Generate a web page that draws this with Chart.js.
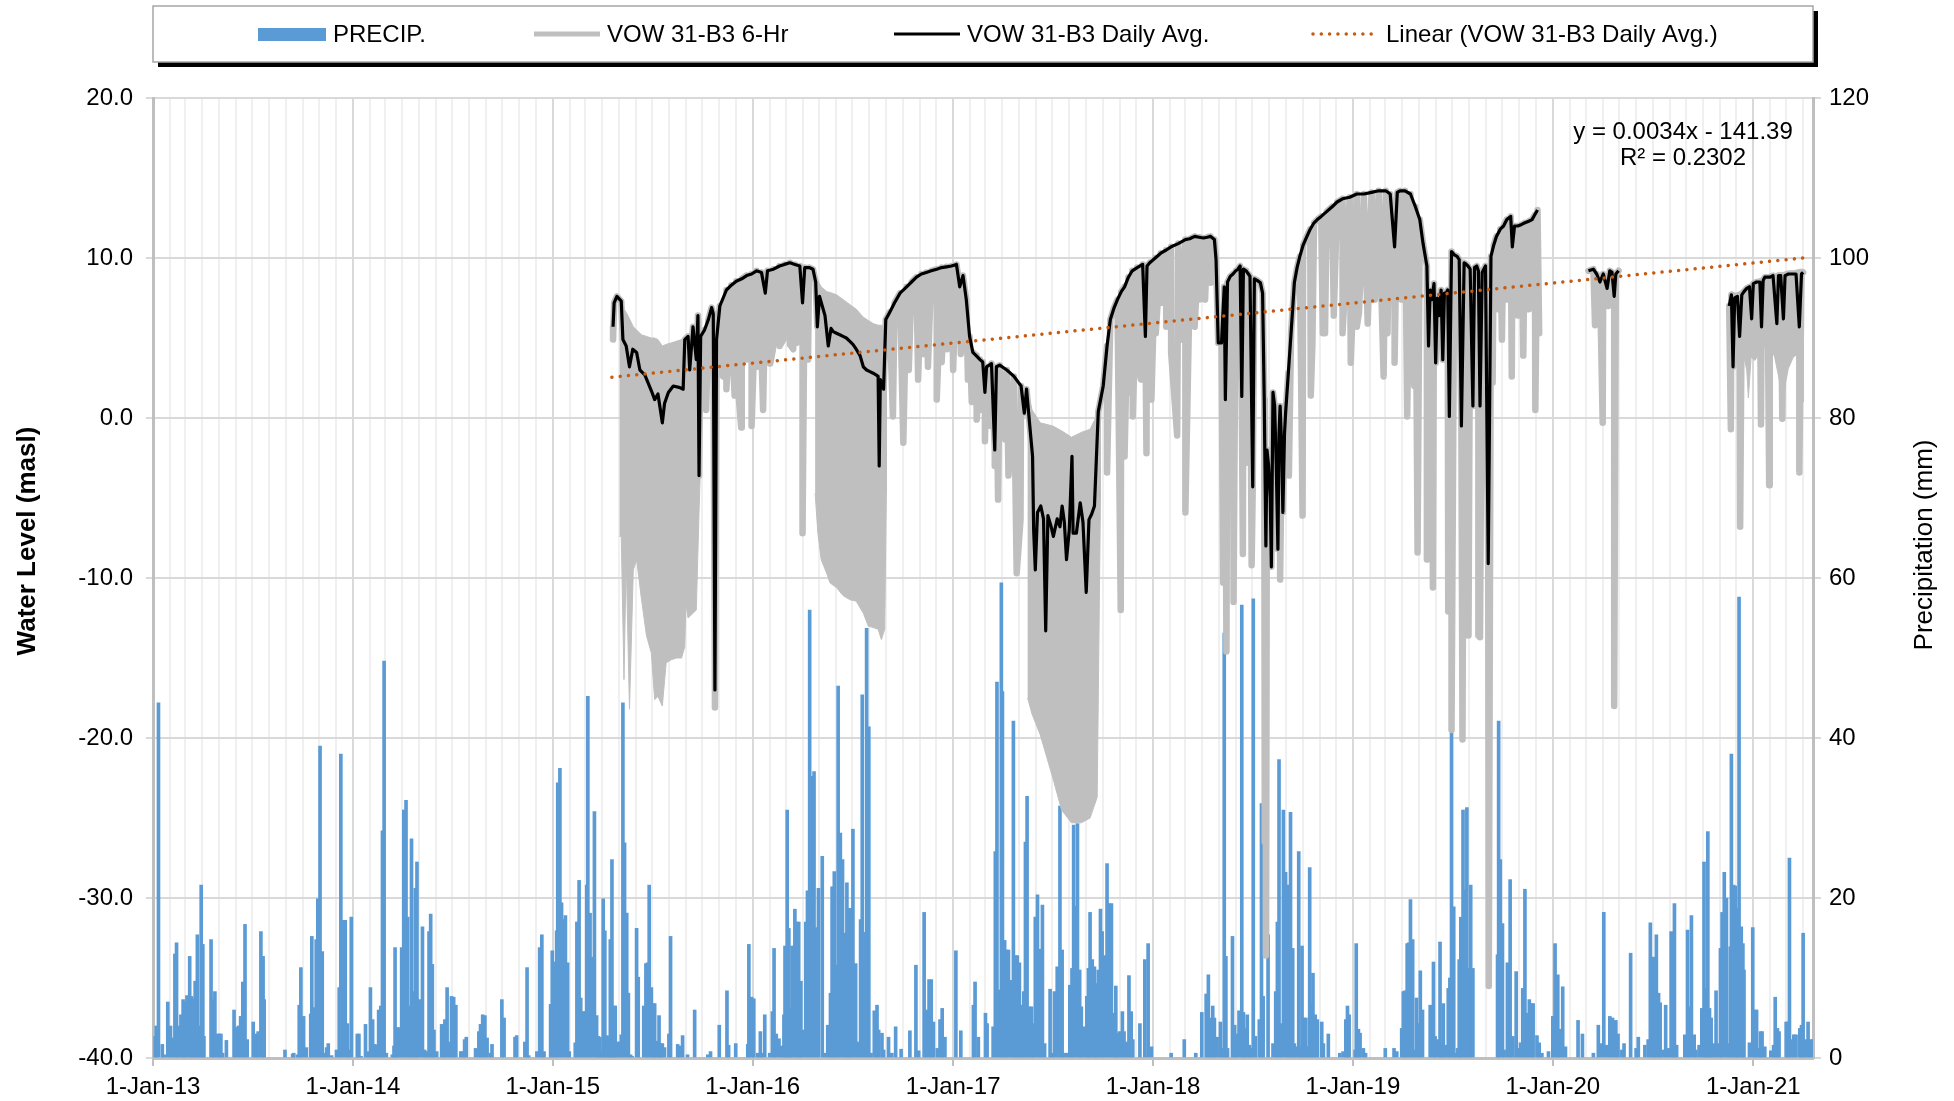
<!DOCTYPE html>
<html>
<head>
<meta charset="utf-8">
<title>VOW 31-B3 water level and precipitation</title>
<script src="https://cdn.jsdelivr.net/npm/chart.js@4.4.1/dist/chart.umd.min.js"></script>
<style>
  html, body { margin: 0; padding: 0; background: #fff; }
  #wrap { width: 1954px; height: 1101px; }
</style>
</head>
<body>
<div id="wrap"><canvas id="chart" width="1954" height="1101"></canvas></div>
<script>
// x values are days counted from 1-Jan-2013
const xMax = 3031;
const yearLabels = ['1-Jan-13', '1-Jan-14', '1-Jan-15', '1-Jan-16', '1-Jan-17', '1-Jan-18', '1-Jan-19', '1-Jan-20', '1-Jan-21'];
const seriesNames = ['PRECIP.', 'VOW 31-B3 6-Hr', 'VOW 31-B3 Daily Avg.', 'Linear (VOW 31-B3 Daily Avg.)'];
const axisTitles = ['Water Level (masl)', 'Precipitation (mm)'];
const trendText = ['y = 0.0034x - 141.39', 'R\u00b2 = 0.2302'];

// daily precipitation (mm)
const precipDays = [
  4, 6, 10, 17, 21, 27, 32, 35, 40, 43,
  46, 51, 55, 58, 62, 67, 70, 74, 77, 81,
  84, 88, 91, 93, 106, 110, 113, 118, 121, 124,
  127, 134, 148, 151, 156, 160, 164, 168, 172, 183,
  188, 192, 197, 201, 203, 241, 255, 257, 264, 267,
  270, 275, 280, 288, 290, 294, 298, 301, 305, 309,
  312, 317, 320, 326, 335, 340, 343, 347, 351, 355,
  358, 362, 373, 376, 380, 388, 393, 397, 401, 405,
  408, 412, 416, 419, 422, 426, 437, 440, 442, 446,
  449, 454, 458, 462, 465, 468, 472, 475, 479, 482,
  486, 492, 496, 500, 504, 507, 510, 513, 518, 527,
  530, 533, 537, 541, 545, 549, 553, 562, 565, 569,
  572, 589, 595, 598, 602, 606, 610, 616, 619, 637,
  641, 661, 664, 679, 683, 686, 701, 706, 710, 714,
  726, 729, 733, 737, 739, 743, 746, 749, 753, 757,
  760, 771, 774, 778, 781, 786, 789, 792, 794, 798,
  802, 806, 810, 813, 816, 819, 822, 825, 829, 832,
  835, 838, 841, 844, 847, 852, 855, 858, 861, 865,
  868, 872, 875, 883, 886, 896, 900, 903, 906, 910,
  913, 916, 920, 924, 927, 930, 934, 942, 945, 958,
  961, 967, 976, 989, 1013, 1018, 1034, 1048, 1051, 1064,
  1086, 1088, 1093, 1097, 1104, 1109, 1112, 1117, 1126, 1131,
  1134, 1138, 1143, 1147, 1152, 1154, 1158, 1161, 1163, 1167,
  1172, 1176, 1179, 1183, 1186, 1192, 1195, 1199, 1203, 1207,
  1211, 1215, 1222, 1227, 1232, 1237, 1240, 1244, 1247, 1251,
  1255, 1259, 1263, 1267, 1271, 1274, 1278, 1283, 1288, 1292,
  1295, 1299, 1303, 1307, 1311, 1317, 1322, 1325, 1331, 1334,
  1343, 1349, 1356, 1366, 1382, 1393, 1398, 1408, 1412, 1417,
  1421, 1425, 1432, 1437, 1441, 1446, 1466, 1475, 1498, 1501,
  1507, 1520, 1523, 1534, 1538, 1541, 1545, 1549, 1551, 1555,
  1558, 1562, 1567, 1571, 1574, 1578, 1582, 1585, 1590, 1593,
  1596, 1600, 1604, 1607, 1611, 1615, 1619, 1624, 1628, 1638,
  1642, 1646, 1651, 1656, 1660, 1664, 1669, 1674, 1678, 1681,
  1684, 1688, 1692, 1695, 1700, 1705, 1708, 1711, 1715, 1719,
  1722, 1726, 1730, 1733, 1737, 1742, 1746, 1750, 1754, 1758,
  1761, 1765, 1770, 1773, 1778, 1782, 1786, 1789, 1802, 1811,
  1817, 1823, 1859, 1883, 1904, 1915, 1923, 1927, 1930, 1935,
  1938, 1943, 1949, 1952, 1956, 1959, 1962, 1971, 1975, 1978,
  1983, 1988, 1991, 1994, 1998, 2002, 2005, 2009, 2013, 2020,
  2024, 2027, 2036, 2045, 2050, 2053, 2056, 2060, 2064, 2068,
  2071, 2074, 2077, 2081, 2084, 2088, 2092, 2095, 2098, 2102,
  2105, 2108, 2112, 2115, 2118, 2122, 2126, 2134, 2137, 2146,
  2167, 2173, 2178, 2181, 2184, 2195, 2197, 2201, 2204, 2210,
  2214, 2250, 2266, 2271, 2280, 2283, 2286, 2290, 2293, 2296,
  2300, 2302, 2307, 2310, 2314, 2318, 2332, 2338, 2341, 2346,
  2350, 2353, 2356, 2360, 2365, 2368, 2371, 2375, 2377, 2382,
  2385, 2388, 2392, 2395, 2399, 2403, 2406, 2410, 2455, 2457,
  2460, 2464, 2467, 2473, 2478, 2483, 2489, 2493, 2497, 2501,
  2505, 2509, 2513, 2517, 2520, 2527, 2531, 2536, 2548, 2556,
  2560, 2565, 2568, 2574, 2579, 2602, 2610, 2630, 2639, 2645,
  2649, 2654, 2660, 2665, 2671, 2675, 2682, 2686, 2698, 2708,
  2712, 2724, 2730, 2734, 2738, 2741, 2745, 2749, 2752, 2757,
  2762, 2767, 2772, 2776, 2778, 2782, 2797, 2802, 2805, 2809,
  2814, 2817, 2823, 2828, 2832, 2835, 2839, 2842, 2845, 2850,
  2854, 2859, 2862, 2865, 2869, 2873, 2876, 2880, 2882, 2886,
  2889, 2892, 2893, 2896, 2900, 2903, 2905, 2915, 2921, 2924,
  2928, 2932, 2935, 2938, 2943, 2954, 2959, 2962, 2966, 2969,
  2982, 2985, 2988, 2991, 2996, 3000, 3007, 3010, 3013, 3017,
  3022, 3026, 3030
];
const precipMm = [
  2.7, 4, 44.4, 1.7, 0.4, 7, 4, 2.5, 13, 14.4,
  4, 5.4, 7.3, 7, 7.8, 12.7, 7.7, 7.4, 9.6, 15.4,
  4, 21.6, 14.2, 2.7, 14.8, 7.3, 8.3, 3, 3, 3,
  0.6, 2.2, 6, 3.8, 4, 5.2, 9.5, 16.7, 2.3, 4.5,
  3, 3.3, 15.8, 12.7, 7.3, 1, 0.5, 0.6, 0.4, 6.6,
  11.3, 5.2, 1.3, 5.5, 15.2, 6.3, 14.8, 19.9, 39, 13.3,
  0.6, 1.3, 1.8, 0.3, 1, 8.8, 38, 17.2, 17.2, 4.3,
  1, 17.6, 3, 3, 0.2, 4.2, 0.8, 8.8, 4.8, 1.7,
  1.6, 6, 6.5, 28.4, 49.6, 0.6, 0.4, 1.5, 13.8, 3.8,
  3.8, 13.8, 31, 32.2, 17.6, 6.5, 27.4, 8.3, 21.2, 24.5,
  7.3, 16.4, 1, 0.8, 15.8, 18, 11.7, 3.5, 0.8, 4.2,
  4.2, 4.8, 8.8, 2, 7.7, 7.6, 6.6, 0.8, 0.8, 2.3,
  2.6, 1.2, 3.3, 4.2, 5.4, 5.3, 2.5, 0.6, 1.7, 7.3,
  5, 2.6, 2.8, 2, 11.3, 0.3, 0.8, 13.8, 15.4, 0.8,
  6.7, 13.4, 12, 15.9, 34.4, 36.2, 19.4, 17.3, 17.8, 11.9,
  0.8, 1.9, 17, 22.2, 7.5, 5.8, 5.8, 21.6, 45.2, 18.1,
  12.6, 30.8, 5.3, 2.7, 2.6, 0.8, 19.9, 15.9, 2.8, 2.5,
  14.8, 24.8, 6.5, 6.5, 2, 2, 2.9, 44.4, 26.9, 18.1,
  8.1, 0.4, 0.2, 16.2, 10.1, 6.5, 11.8, 11.9, 21.6, 8.8,
  6.8, 6.8, 2.1, 5.3, 1.8, 1.8, 1.3, 3, 15.2, 1.7,
  1.5, 2.8, 0.4, 6, 0.4, 0.8, 4.1, 8.4, 1.6, 1.8,
  1.7, 14.2, 7.6, 7.4, 0.6, 3.3, 0.6, 5.4, 0.6, 5.8,
  13.7, 3, 2.4, 1.5, 5.4, 14, 31, 16.2, 6.2, 14,
  18.6, 17, 17, 9.6, 3.5, 17, 20.9, 56, 35.2, 35.8,
  16.3, 21.2, 25.2, 0.6, 4.1, 8.1, 21.4, 23.3, 11.6, 46.5,
  28.1, 24.8, 15.6, 21.9, 18.7, 18.7, 28.6, 11.8, 2, 17.3,
  45.4, 15.7, 53.7, 41.4, 0.6, 5.9, 6.6, 3.5, 3.1, 1,
  2.6, 0.6, 3.9, 1.1, 3.4, 11.6, 0.9, 18.2, 6, 9.8,
  9.8, 4.5, 1.2, 4.8, 6.2, 2.6, 13.4, 3.4, 6.6, 9.5,
  2.6, 5.6, 4.3, 3.9, 25.8, 47, 8.5, 59.4, 45.8, 14.7,
  13.5, 13.5, 9.7, 42.1, 12.8, 12.8, 11.9, 6.6, 8.3, 27,
  32.7, 6.4, 6.4, 4.3, 17.6, 20.4, 13.6, 19.1, 1.8, 8.6,
  0.6, 8.3, 11.4, 31.5, 13.5, 0.6, 0.6, 9.1, 11.2, 29.1,
  19, 29.3, 11, 6.4, 3.9, 7.7, 11.2, 18.2, 12.3, 11.4,
  9.3, 11, 18.6, 15.8, 12.8, 24.3, 19.3, 19.3, 5.6, 9,
  3.1, 3.3, 5.8, 3.3, 2, 10.3, 5.8, 2.3, 4.3, 12.3,
  14.3, 1.4, 0.6, 2.3, 0.6, 5.7, 8, 10.4, 5, 6.5,
  5, 2.6, 4.5, 1.2, 53.1, 12.7, 1.2, 15.2, 4.1, 3,
  5.9, 56.6, 5.7, 3.7, 5.4, 1.6, 1.2, 57.4, 2.7, 4.8,
  31.8, 7.7, 15.4, 1.8, 8.3, 17, 37.3, 4.3, 31, 23.2,
  21.6, 18, 30.7, 13.7, 1.8, 1.4, 25.8, 1.4, 14, 5,
  5, 1.4, 23.8, 6.8, 10.6, 5.4, 4.8, 4.5, 1.8, 3,
  0.6, 0.8, 4.8, 6.5, 5.4, 1, 14.3, 3.6, 3.1, 1.2,
  0.6, 1.2, 1.2, 0.8, 3.7, 8.3, 8.4, 14.3, 14.4, 19.8,
  14.8, 1, 7.5, 4.3, 10.9, 6, 6.6, 12, 2.7, 2.3,
  14.5, 1.8, 6.8, 1.6, 8.7, 10, 53.5, 18.9, 0.6, 1.2,
  12.3, 17.6, 31, 21, 31.3, 11.2, 21.6, 11.2, 12.9, 42.1,
  24.8, 16.8, 1, 11.9, 22.3, 2.7, 10.8, 1.2, 1.9, 8.7,
  21.1, 5.6, 7.3, 6.8, 6.8, 2.8, 1.9, 0.6, 0.8, 5.2,
  14.3, 10.4, 3.6, 8.9, 1.4, 4.7, 3, 0.6, 4.1, 1.8,
  18.2, 1.6, 5.2, 5, 4.7, 3, 1, 1.8, 13.1, 1.2,
  2.6, 1.6, 2.3, 16.9, 12.6, 12.6, 15.4, 8.1, 6.9, 1,
  6.6, 1.2, 15.8, 14.3, 19.3, 1.6, 2.9, 16, 6.4, 17.8,
  2.9, 1, 1.6, 6.2, 24.5, 8.7, 28.3, 6.2, 5, 1.8,
  8.4, 1.8, 13.7, 18.2, 23.2, 20, 1.8, 13.9, 38, 21.6,
  21.5, 16.9, 18.7, 57.6, 16.4, 14.3, 11, 1.9, 16.3, 6,
  6, 1.2, 3.3, 3.3, 1.4, 0.9, 1.6, 7.6, 3.7, 3.3,
  4.5, 4.5, 25, 2.3, 2.9, 2.9, 3.7, 4.1, 15.6, 2.3,
  4.5, 2.3, 2.3
];

// VOW 31-B3 daily average water level (masl); null marks a break in the record
const levelDays = [
  840, 842, 847, 855, 858, 864, 870, 876, 883, 889,
  898, 904, 910, 916, 922, 930, 934, 941, 950, 962,
  968, 971, 977, 980, 986, 992, 995, 997, 1000, 1007,
  1014, 1020, 1023, 1026, 1029, 1035, 1047, 1056, 1065, 1075,
  1084, 1093, 1102, 1111, 1118, 1122, 1133, 1144, 1153, 1163,
  1172, 1181, 1186, 1190, 1198, 1205, 1210, 1213, 1217, 1222,
  1227, 1233, 1238, 1242, 1248, 1254, 1260, 1266, 1272, 1278,
  1284, 1291, 1297, 1303, 1309, 1315, 1320, 1324, 1326, 1328,
  1330, 1334, 1338, 1345, 1354, 1364, 1376, 1385, 1394, 1403,
  1412, 1421, 1431, 1440, 1449, 1458, 1467, 1473, 1479, 1485,
  1491, 1497, 1503, 1510, 1515, 1519, 1522, 1531, 1537, 1540,
  1546, 1559, 1572, 1585, 1591, 1595, 1602, 1606, 1608, 1611,
  1615, 1621, 1626, 1630, 1634, 1640, 1644, 1651, 1656, 1660,
  1664, 1668, 1673, 1678, 1680, 1686, 1693, 1698, 1704, 1709,
  1714, 1719, 1726, 1735, 1742, 1748, 1755, 1761, 1768, 1774,
  1781, 1788, 1797, 1807, 1812, 1815, 1820, 1830, 1840, 1850,
  1859, 1872, 1885, 1893, 1902, 1910, 1918, 1925, 1931, 1938,
  1941, 1945, 1951, 1956, 1958, 1962, 1967, 1972, 1977, 1981,
  1985, 1988, 1991, 1996, 2000, 2003, 2008, 2011, 2016, 2022,
  2026, 2029, 2032, 2034, 2037, 2040, 2042, 2045, 2048, 2051,
  2054, 2056, 2058, 2061, 2063, 2066, 2068, 2073, 2078, 2084,
  2089, 2094, 2100, 2107, 2113, 2120, 2126, 2133, 2143, 2153,
  2162, 2172, 2185, 2198, 2211, 2225, 2238, 2251, 2259, 2267,
  2272, 2277, 2286, 2296, 2305, 2313, 2319, 2326, 2329, 2332,
  2335, 2339, 2342, 2345, 2348, 2352, 2355, 2358, 2361, 2364,
  2367, 2371, 2376, 2381, 2385, 2389, 2394, 2398, 2401, 2405,
  2410, 2413, 2417, 2420, 2423, 2427, 2430, 2433, 2438, 2443,
  2448, 2453, 2460, 2466, 2472, 2479, 2482, 2486, 2492, 2499,
  2505, 2512, 2518, 2523, 2528, 2560, 2621, 2630, 2636, 2642,
  2648, 2655, 2660, 2664, 2668, 2671, 2676, 2750, 2878, 2882,
  2885, 2888, 2893, 2897, 2901, 2905, 2910, 2915, 2919, 2922,
  2928, 2934, 2937, 2940, 2943, 2948, 2952, 2958, 2965, 2968,
  2972, 2977, 2980, 2986, 2995, 3000, 3006, 3010, 3013
];
const levelAvg = [
  5.7, 7.2, 7.6, 7.3, 4.9, 4.5, 3.2, 4.3, 4.1, 3.0,
  2.7, 2.2, 1.7, 1.15, 1.5, -0.3, 0.9, 1.6, 2.0, 1.9,
  1.8, 4.9, 5.1, 3.0, 5.7, 3.65, 6.4, -3.6, 5.1, 5.5,
  6.15, 6.9, 6.5, -17.0, 4.9, 7.0, 8.0, 8.3, 8.55, 8.7,
  8.9, 9.0, 9.2, 9.1, 7.8, 9.2, 9.3, 9.5, 9.6, 9.7,
  9.6, 9.5, 7.2, 9.4, 9.4, 9.3, 8.5, 5.7, 7.6, 7.0,
  6.4, 4.5, 5.6, 5.4, 5.3, 5.2, 5.1, 5.0, 4.8, 4.6,
  4.3, 3.9, 3.2, 3.0, 2.9, 2.8, 2.7, 2.6, -3.0, 2.4,
  2.2, 1.8, 6.15, 6.6, 7.2, 7.8, 8.2, 8.5, 8.8, 9.0,
  9.1, 9.2, 9.3, 9.4, 9.45, 9.5, 9.6, 8.2, 8.9, 7.4,
  5.1, 4.1, 3.9, 3.65, 3.5, 1.6, 3.2, 3.4, -2.0, 3.2,
  3.3, 3.0, 2.6, 2.0, 0.3, 1.8, -0.9, -2.4, -7.0, -9.5,
  -5.9, -5.5, -6.3, -13.3, -6.1, -6.8, -7.4, -6.3, -6.8, -5.5,
  -6.5, -8.85, -7.0, -2.4, -7.2, -7.2, -5.3, -6.5, -10.9, -6.35,
  -6.0, -5.5, 0.4, 2.0, 4.5, 6.15, 6.9, 7.4, 7.9, 8.2,
  8.8, 9.2, 9.4, 9.6, 5.1, 9.5, 9.7, 10.0, 10.3, 10.5,
  10.7, 10.9, 11.15, 11.2, 11.35, 11.3, 11.25, 11.3, 11.35, 11.15,
  9.9, 4.7, 4.7, 8.2, 1.15, 8.5, 8.85, 9.0, 9.2, 9.3,
  9.5, 1.35, 9.3, 9.2, 9.0, 8.85, -4.3, 8.7, 8.6, 8.45,
  7.8, 1.15, -8.0, -2.0, -3.0, -5.0, -9.3, 1.6, 0.75, -3.0,
  -8.2, -1.0, 0.75, -2.0, -5.9, -1.0, 0.3, 2.8, 5.3, 8.45,
  9.4, 10.1, 10.8, 11.35, 11.8, 12.2, 12.4, 12.6, 12.9, 13.2,
  13.5, 13.7, 13.8, 14.0, 14.0, 14.1, 14.2, 14.2, 14.0, 10.7,
  14.1, 14.2, 14.2, 14.0, 13.2, 12.4, 10.9, 9.5, 4.5, 8.0,
  7.4, 8.4, 3.45, 7.5, 6.4, 8.0, 3.65, 7.8, 7.8, 8.0,
  0.1, 10.4, 10.2, 10.1, 9.9, -0.5, 9.7, 9.6, 9.5, 9.3,
  0.75, 9.4, 9.5, 9.2, 0.75, 9.1, 9.3, 9.5, -9.1, 10.1,
  10.8, 11.35, 11.8, 12.0, 12.4, 12.6, 10.7, 12.0, 12.0, 12.1,
  12.2, 12.3, 12.4, 12.7, 13.0, null, 9.2, 9.3, 9.0, 8.5,
  9.0, 8.1, 9.2, 9.1, 7.6, 9.0, 9.2, null, 7.0, 7.7,
  3.2, 7.5, 7.6, 5.1, 7.7, 7.9, 8.1, 8.2, 6.2, 8.4,
  8.5, 8.5, 5.7, 8.6, 8.8, 8.8, 8.8, 8.9, 5.9, 8.9,
  8.9, 6.2, 8.9, 9.0, 9.0, 9.0, 5.7, 9.0, 9.1
];

// 6-hr readings that drop well below the daily average
const sixHrDipDays = [
  840, 1010, 1026, 1035, 1041, 1047, 1060, 1062, 1066, 1074,
  1084, 1093, 1102, 1111, 1114, 1127, 1132, 1135, 1144, 1151,
  1160, 1163, 1169, 1175, 1181, 1186, 1196, 1351, 1370, 1380,
  1397, 1406, 1415, 1431, 1440, 1450, 1461, 1475, 1488, 1495,
  1504, 1510, 1519, 1530, 1537, 1543, 1556, 1562, 1577, 1584,
  1742, 1767, 1774, 1781, 1789, 1797, 1804, 1814, 1823, 1831,
  1843, 1850, 1859, 1870, 1879, 1885, 1892, 1902, 1911, 1921,
  1931, 1954, 1960, 1973, 1990, 1996, 2006, 2030, 2032, 2058,
  2074, 2099, 2114, 2117, 2136, 2140, 2156, 2172, 2187, 2198,
  2202, 2218, 2231, 2247, 2254, 2267, 2280, 2290, 2303, 2309,
  2326, 2337, 2365, 2368, 2371, 2391, 2402, 2420, 2423, 2439,
  2446, 2456, 2463, 2472, 2481, 2492, 2502, 2511, 2524, 2531,
  2633, 2647, 2657, 2668, 2881, 2898, 2936, 2951, 2975, 3006
];
const sixHrDipLevels = [
  4.9, 0.5, -18.1, 3.0, 2.6, 1.8, 2.8, 1.4, 2.8, -0.6,
  3.65, -0.5, 3.2, 4.1, 0.5, 3.4, 4.3, 4.7, 4.5, 4.9,
  5.4, 4.6, 4.3, 4.7, 4.8, -7.2, 3.65, 0.1, -1.55, 3.0,
  2.4, 4.0, 3.2, 1.15, 3.5, 4.3, 3.0, 4.0, 2.4, 1.0,
  -0.1, 0.5, -1.45, -0.5, -3.0, -5.1, -1.35, -3.6, -9.7, -6.35,
  -3.4, -12.0, -2.4, 1.6, 0.1, 3.65, 2.4, -2.2, 1.15, 5.3,
  7.2, 5.7, 4.1, -1.1, 4.9, -5.9, 6.8, 5.7, 7.4, 7.4,
  8.45, -10.3, -14.6, -11.5, -8.5, -2.8, -9.2, -26.5, -33.6, -10.1,
  -3.6, -6.1, 1.4, 4.7, 5.3, 5.3, 6.4, 5.3, 3.45, 5.7,
  6.6, 5.9, 7.4, 2.6, 5.3, 3.45, 7.4, 0.1, 2.0, -8.4,
  -8.85, -10.6, -12.1, -12.1, -19.5, -20.1, -13.6, -13.6, -13.7, -35.5,
  2.2, 6.8, 4.9, 7.4, 2.6, 6.4, 3.9, 6.8, 0.5, 5.3,
  5.8, -0.3, 7.0, -18.0, -0.7, -6.8, -0.4, -4.2, -0.05, -3.4
];

// periods where the 6-hr readings swing continuously between two levels
const bandDays = [
  [852, 855, 860, 864, 870, 877, 883, 892, 901, 910, 916, 922, 930, 937, 947, 956, 965, 971, 973, 977, 986, 992, 997, 1000],
  [1209, 1214, 1220, 1230, 1236, 1248, 1260, 1272, 1284, 1297, 1306, 1315, 1324, 1330, 1336, 1339],
  [1597, 1605, 1620, 1643, 1659, 1677, 1695, 1711, 1724, 1730],
  [2878, 2882, 2890, 2897, 2905, 2910, 2913, 2918, 2925, 2940, 2952, 2961, 2970, 2977, 2986, 2995, 3007, 3010, 3013]
];
const bandTop = [
  [7.0, 7.0, 6.8, 6.6, 6.2, 5.7, 5.5, 5.2, 5.1, 5.0, 5.0, 4.9, 4.5, 4.6, 4.7, 4.8, 4.9, 5.0, 5.0, 5.1, 5.5, 5.7, 6.0, 6.2],
  [9.2, 8.6, 8.2, 7.9, 7.85, 7.7, 7.4, 7.1, 6.8, 6.3, 6.1, 5.9, 5.8, 5.8, 5.7, 5.7],
  [1.8, 0.5, -0.3, -0.5, -0.8, -1.2, -0.9, -0.7, 0.2, 0.4],
  [7.3, 7.9, 7.8, 7.9, 8.1, 8.3, 8.3, 8.4, 8.6, 8.8, 9.0, 9.0, 9.1, 9.1, 9.2, 9.2, 9.3, 9.3, 9.3]
];
const bandLow = [
  [-7.4, -7.4, -16.35, -8.85, -18.2, -9.5, -8.85, -11.35, -13.6, -14.7, -17.6, -17.4, -18.0, -15.3, -15.1, -15.0, -15.0, -14.3, -11.6, -12.5, -12.2, -12.0, -5.9, -2.6],
  [-4.7, -7.2, -8.85, -9.7, -10.3, -10.6, -11.1, -11.35, -11.45, -12.2, -13.0, -13.1, -13.2, -13.85, -13.2, -4.7],
  [-17.5, -18.5, -19.8, -22.5, -24.5, -25.3, -25.3, -25.0, -23.7, -5.0],
  [4.4, 4.4, 4.1, 4.0, 3.8, 3.0, 1.25, 3.8, 3.6, 4.4, 4.6, 3.8, 2.3, 1.5, 3.1, 3.8, 4.1, 1.0, 1.0]
];

// linear trend of the daily average, ends
const trendDays = [838, 3013];
const trendLevel = [2.55, 10.0];

const FONT = "'Liberation Sans', Arial, sans-serif";
const BLUE = '#5b9bd5', GREY = '#bfbfbf', ORANGE = '#c55a11';

// month ticks for the grid; January ones carry the labels
const day0 = Date.UTC(2013, 0, 1);
const monthTicks = [];
for (let y = 2013; y <= 2021; y++) {
  for (let m = 0; m < 12; m++) {
    const d = Math.round((Date.UTC(y, m, 1) - day0) / 86400000);
    if (d <= xMax) monthTicks.push({ value: d, major: m === 0, label: m === 0 ? yearLabels[y - 2013] : '' });
  }
}
const tickLabel = {};
monthTicks.forEach(t => { tickLabel[t.value] = t.label; });

const precipData = precipDays.map((d, i) => ({ x: d, y: precipMm[i] }));
const avgData = levelDays.map((d, i) => ({ x: d, y: levelAvg[i] }));
const sixHrData = avgData.concat(sixHrDipDays.map((d, i) => ({ x: d, y: sixHrDipLevels[i] })))
  .sort((a, b) => a.x - b.x);
const bandData = [];
bandDays.forEach((days, b) => {
  days.forEach((d, i) => bandData.push({ x: d, y: bandTop[b][i] }));
  for (let i = days.length - 1; i >= 0; i--) bandData.push({ x: days[i], y: bandLow[b][i] });
  bandData.push({ x: days[days.length - 1], y: null });
});
const trendData = trendDays.map((d, i) => ({ x: d, y: trendLevel[i] }));

// legend box, axis titles and trendline equation, placed like the Excel original
const decorations = {
  id: 'decorations',
  afterDraw(chart) {
    const ctx = chart.ctx;
    const a = chart.chartArea;
    ctx.save();
    ctx.fillStyle = '#000';
    ctx.fillRect(a.left + 5, 11, a.right - a.left, 56);
    ctx.fillStyle = '#fff';
    ctx.fillRect(a.left, 6, a.right - a.left, 56);
    ctx.strokeStyle = '#a6a6a6';
    ctx.lineWidth = 1.5;
    ctx.strokeRect(a.left, 6, a.right - a.left, 56);

    const cy = 34;
    const xs = [258, 532, 892, 1311];
    ctx.fillStyle = BLUE;
    ctx.fillRect(xs[0], cy - 6, 68, 13);
    const drawSample = (x, color, width, dash) => {
      ctx.beginPath();
      ctx.strokeStyle = color;
      ctx.lineWidth = width;
      ctx.lineCap = dash ? 'round' : 'butt';
      ctx.setLineDash(dash || []);
      ctx.moveTo(x + 2, cy);
      ctx.lineTo(x + 68, cy);
      ctx.stroke();
    };
    drawSample(xs[1], GREY, 5);
    drawSample(xs[2], '#000', 3);
    drawSample(xs[3], ORANGE, 3.5, [0.01, 8.3]);
    ctx.setLineDash([]);
    ctx.fillStyle = '#000';
    ctx.font = '24px ' + FONT;
    ctx.textBaseline = 'middle';
    ctx.textAlign = 'left';
    seriesNames.forEach((name, i) => ctx.fillText(name, xs[i] + 75, cy + 1));

    ctx.textAlign = 'center';
    ctx.fillText(trendText[0], 1683, 132);
    ctx.fillText(trendText[1], 1683, 158);

    // both axis titles read bottom-to-top
    ctx.save();
    ctx.translate(28, 541);
    ctx.rotate(-Math.PI / 2);
    ctx.font = 'bold 26px ' + FONT;
    ctx.fillText(axisTitles[0], 0, 0);
    ctx.restore();
    ctx.save();
    ctx.translate(1925, 545);
    ctx.rotate(-Math.PI / 2);
    ctx.font = '26px ' + FONT;
    ctx.fillText(axisTitles[1], 0, 0);
    ctx.restore();
    ctx.restore();
  }
};

Chart.defaults.font.family = FONT;
Chart.defaults.color = '#000';

new Chart(document.getElementById('chart'), {
  type: 'line',
  data: {
    datasets: [
      {
        type: 'bar', label: seriesNames[0], data: precipData, yAxisID: 'y1',
        backgroundColor: BLUE, barThickness: 3, grouped: false, order: 5
      },
      {
        label: seriesNames[1], data: sixHrData, yAxisID: 'y',
        borderColor: GREY, borderWidth: 6.5, borderCapStyle: 'round', borderJoinStyle: 'round',
        pointRadius: 0, spanGaps: false, fill: false, order: 3
      },
      {
        label: seriesNames[2], data: avgData, yAxisID: 'y',
        borderColor: '#000', borderWidth: 3.2, borderJoinStyle: 'round',
        pointRadius: 0, spanGaps: false, fill: false, order: 2
      },
      {
        label: seriesNames[3], data: trendData, yAxisID: 'y',
        borderColor: ORANGE, borderWidth: 3.5, borderDash: [0.01, 8.3], borderCapStyle: 'round',
        pointRadius: 0, fill: false, order: 1
      },
      {
        label: '', data: bandData, yAxisID: 'y',
        borderColor: GREY, borderWidth: 1, backgroundColor: GREY,
        pointRadius: 0, spanGaps: false, fill: 'shape', order: 4
      }
    ]
  },
  options: {
    responsive: false,
    animation: false,
    devicePixelRatio: 1,
    events: [],
    layout: { padding: { top: 98, right: 0, bottom: 0, left: 0 } },
    plugins: {
      legend: { display: false },
      tooltip: { enabled: false }
    },
    scales: {
      x: {
        type: 'linear', min: 0, max: xMax, offset: false,
        afterBuildTicks: s => { s.ticks = monthTicks.map(t => ({ value: t.value, major: t.major })); },
        afterFit: s => { s.height = 43; },
        ticks: {
          autoSkip: false, maxRotation: 0, minRotation: 0, padding: 7,
          font: { size: 24 }, color: '#000',
          callback: v => tickLabel[v] || ''
        },
        grid: {
          offset: false, lineWidth: 2, tickLength: 8, tickWidth: 2,
          color: c => (c.tick && c.tick.major) ? '#d9d9d9' : '#f0f0f0',
          tickColor: c => (c.tick && c.tick.major) ? GREY : 'rgba(0,0,0,0)'
        },
        border: { color: GREY, width: 3 }
      },
      y: {
        position: 'left', min: -40, max: 20,
        afterFit: s => { s.width = 153; },
        ticks: { stepSize: 10, padding: 13, font: { size: 24 }, color: '#000', callback: v => v.toFixed(1) },
        grid: { color: '#d9d9d9', lineWidth: 2, tickLength: 7, tickColor: '#d9d9d9' },
        border: { color: GREY, width: 3 }
      },
      y1: {
        position: 'right', min: 0, max: 120,
        afterFit: s => { s.width = 141; },
        ticks: { stepSize: 20, padding: 8, font: { size: 24 }, color: '#000' },
        grid: { drawOnChartArea: false, lineWidth: 2, tickLength: 8, tickColor: '#d9d9d9' },
        border: { color: GREY, width: 3 }
      }
    }
  },
  plugins: [decorations]
});
</script>
</body>
</html>
